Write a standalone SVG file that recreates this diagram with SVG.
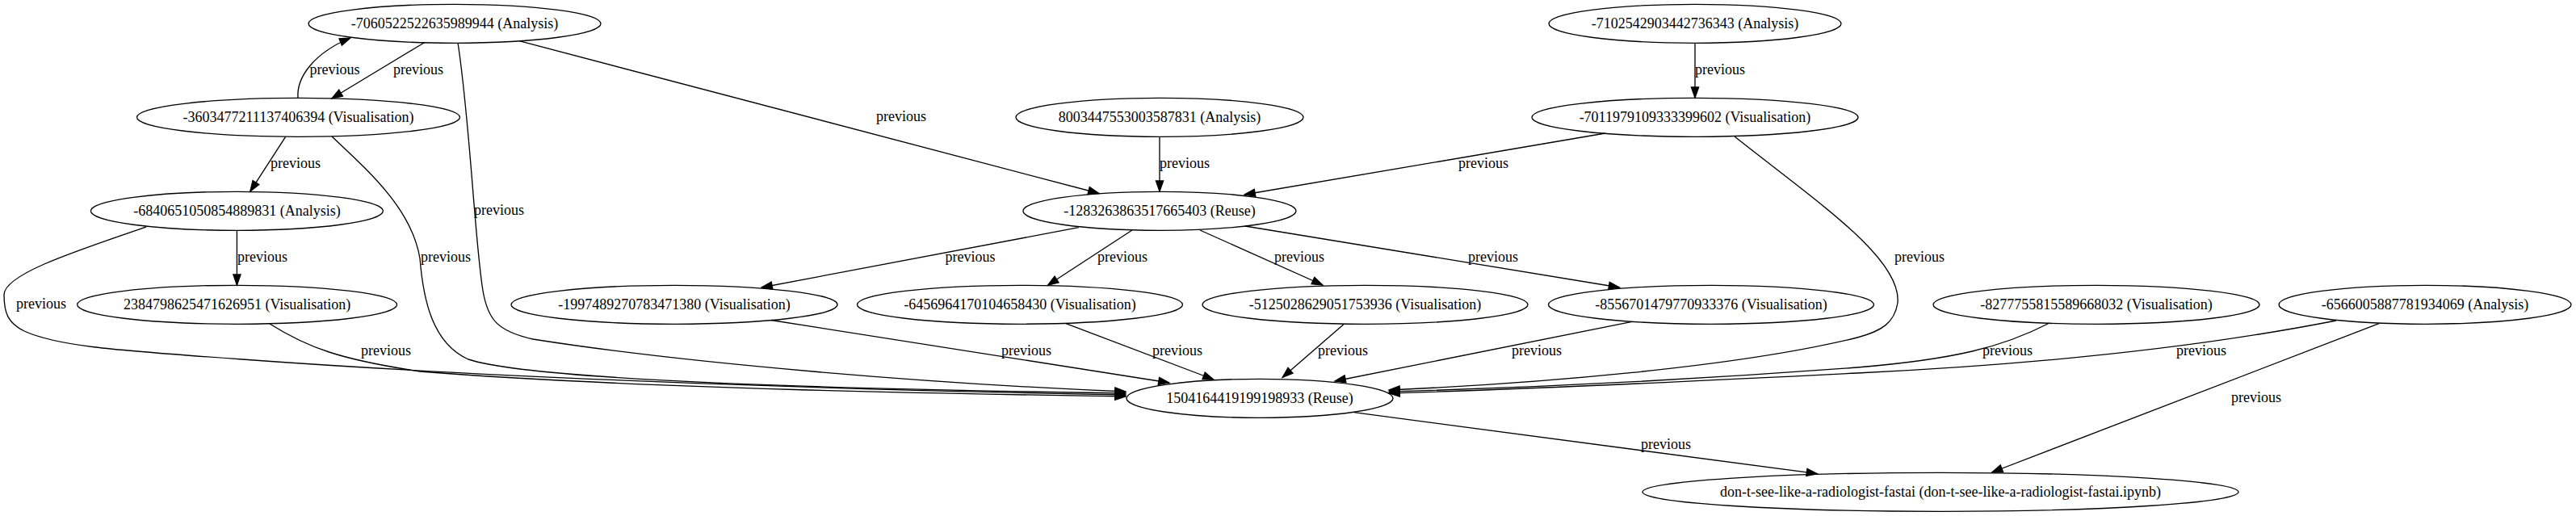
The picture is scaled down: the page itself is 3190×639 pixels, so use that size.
<svg xmlns="http://www.w3.org/2000/svg" width="3190" height="639" viewBox="0 0 3190 639">
<style>
.n ellipse{fill:none;stroke:#000;stroke-width:1.33}
.n text,.lb{font-family:"Liberation Serif","Times New Roman",serif;font-size:18px;fill:#000;text-anchor:middle}
.e path{fill:none;stroke:#000;stroke-width:1.33;marker-end:url(#ah)}
</style>
<defs>
<marker id="ah" markerWidth="16" markerHeight="12" refX="13.33" refY="4.67" orient="auto" markerUnits="userSpaceOnUse" overflow="visible">
<path d="M0,0 L13.33,4.67 L0,9.33 z" fill="#000" stroke="#000" stroke-width="1.2"/>
</marker>
</defs>
<rect width="3190" height="639" fill="#fff"/>
<g id="edges" class="e">
<path d="M369,121 C367,95 390,65 434,47"/>
<path d="M525.5,52.7 L410.7,122"/>
<path d="M353.6,169.3 L309.7,237.3"/>
<path d="M293.4,285.3 L293.4,353.3"/>
<path d="M181,281 C90,312 5,340 5,365 C5,388 10,400 30,410 C70,428 130,433 300,445 C600,467 1000,482 1394,489"/>
<path d="M411,169 C460,215 510,260 520,320 C524,370 535,425 580,445 C640,465 900,480 1394,487"/>
<path d="M567,53 C582,150 588,300 598,360 C604,395 615,410 660,420 C850,450 1150,475 1394,485"/>
<path d="M334,401 C380,430 420,445 520,460 C800,482 1200,488 1394,491"/>
<path d="M643,50.7 L1361,239.5"/>
<path d="M1436,169.3 L1436,237.3"/>
<path d="M1988,165 L1541,241"/>
<path d="M2099,53.3 L2099,121.3"/>
<path d="M2148,169 C2250,250 2355,320 2350,375 C2346,400 2330,410 2300,418 C2150,455 1900,475 1720,483"/>
<path d="M1335.7,281.7 L943,356"/>
<path d="M1402,285 L1297.4,353.3"/>
<path d="M1486,285 L1638,353"/>
<path d="M1542,280 L2005.6,356"/>
<path d="M955,396.5 L1448,474"/>
<path d="M1320,400.7 L1503,470"/>
<path d="M1663.8,401.7 L1588,467.5"/>
<path d="M2021,398.3 L1653,472"/>
<path d="M2538,400 C2480,430 2420,445 2300,455 C2100,470 1900,480 1720,485"/>
<path d="M2893,397 C2750,425 2550,450 2300,462 C2100,472 1900,482 1720,487"/>
<path d="M2946,400.7 L2466.5,585"/>
<path d="M1676.5,510.7 L2250.5,586.7"/>
</g>
<g id="edge-labels">
<text class="lb" x="414.5" y="92">previous</text>
<text class="lb" x="518" y="92">previous</text>
<text class="lb" x="366" y="208">previous</text>
<text class="lb" x="325" y="324">previous</text>
<text class="lb" x="51" y="382">previous</text>
<text class="lb" x="552" y="324">previous</text>
<text class="lb" x="618" y="266">previous</text>
<text class="lb" x="478" y="440">previous</text>
<text class="lb" x="1116" y="150">previous</text>
<text class="lb" x="1467" y="208">previous</text>
<text class="lb" x="1837" y="208">previous</text>
<text class="lb" x="2130" y="92">previous</text>
<text class="lb" x="2377" y="324">previous</text>
<text class="lb" x="1201.5" y="324">previous</text>
<text class="lb" x="1390" y="324">previous</text>
<text class="lb" x="1609" y="324">previous</text>
<text class="lb" x="1849" y="324">previous</text>
<text class="lb" x="1271" y="440">previous</text>
<text class="lb" x="1458" y="440">previous</text>
<text class="lb" x="1663" y="440">previous</text>
<text class="lb" x="1903" y="440">previous</text>
<text class="lb" x="2486" y="440">previous</text>
<text class="lb" x="2726" y="440">previous</text>
<text class="lb" x="2794" y="498">previous</text>
<text class="lb" x="2063" y="556">previous</text>
</g>
<g id="n1" class="n"><ellipse cx="563" cy="29.3" rx="181" ry="24"/><text x="563" y="35">-7060522522635989944 (Analysis)</text></g>
<g id="n2" class="n"><ellipse cx="2099" cy="29.3" rx="181" ry="24"/><text x="2099" y="35">-7102542903442736343 (Analysis)</text></g>
<g id="n3" class="n"><ellipse cx="369.5" cy="145.3" rx="200" ry="24"/><text x="369.5" y="151">-3603477211137406394 (Visualisation)</text></g>
<g id="n4" class="n"><ellipse cx="1436" cy="145.3" rx="178" ry="24"/><text x="1436" y="151">8003447553003587831 (Analysis)</text></g>
<g id="n5" class="n"><ellipse cx="2099" cy="145.3" rx="202" ry="24"/><text x="2099" y="151">-7011979109333399602 (Visualisation)</text></g>
<g id="n6" class="n"><ellipse cx="293.4" cy="261.3" rx="181" ry="24"/><text x="293.4" y="267">-6840651050854889831 (Analysis)</text></g>
<g id="n7" class="n"><ellipse cx="1436" cy="261.3" rx="169" ry="24"/><text x="1436" y="267">-1283263863517665403 (Reuse)</text></g>
<g id="n8" class="n"><ellipse cx="293.6" cy="377.3" rx="198" ry="24"/><text x="293.6" y="383">2384798625471626951 (Visualisation)</text></g>
<g id="n9" class="n"><ellipse cx="835" cy="377.3" rx="202" ry="24"/><text x="835" y="383">-1997489270783471380 (Visualisation)</text></g>
<g id="n10" class="n"><ellipse cx="1263" cy="377.3" rx="201.5" ry="24"/><text x="1263" y="383">-6456964170104658430 (Visualisation)</text></g>
<g id="n11" class="n"><ellipse cx="1690.5" cy="377.3" rx="201.5" ry="24"/><text x="1690.5" y="383">-5125028629051753936 (Visualisation)</text></g>
<g id="n12" class="n"><ellipse cx="2119" cy="377.3" rx="201.5" ry="24"/><text x="2119" y="383">-8556701479770933376 (Visualisation)</text></g>
<g id="n13" class="n"><ellipse cx="2596" cy="377.3" rx="202" ry="24"/><text x="2596" y="383">-8277755815589668032 (Visualisation)</text></g>
<g id="n14" class="n"><ellipse cx="3003" cy="377.3" rx="181" ry="24"/><text x="3003" y="383">-6566005887781934069 (Analysis)</text></g>
<g id="n15" class="n"><ellipse cx="1560" cy="493.3" rx="165" ry="24"/><text x="1560" y="499">1504164419199198933 (Reuse)</text></g>
<g id="n16" class="n"><ellipse cx="2403" cy="609.3" rx="369" ry="24"/><text x="2403" y="615">don-t-see-like-a-radiologist-fastai (don-t-see-like-a-radiologist-fastai.ipynb)</text></g>
</svg>
